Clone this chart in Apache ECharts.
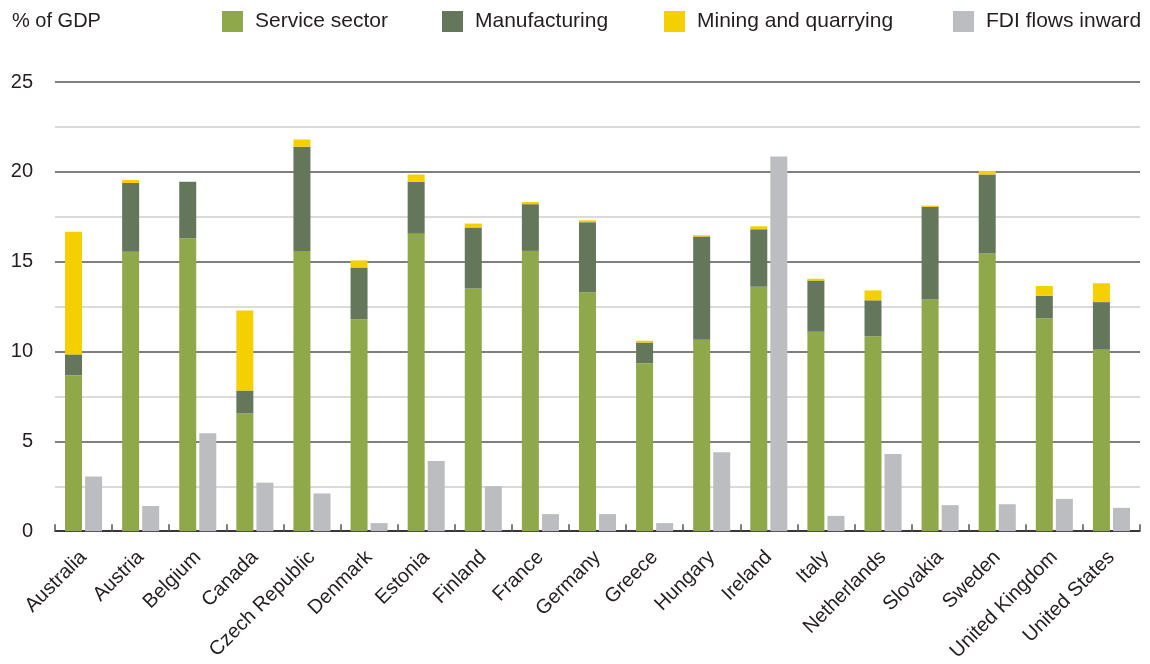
<!DOCTYPE html>
<html>
<head>
<meta charset="utf-8">
<title>Value added by sector and FDI inflows</title>
<script src="https://cdn.jsdelivr.net/npm/echarts@6/dist/echarts.min.js"></script>
<style>
  html, body { margin: 0; padding: 0; background: #fff; }
  #chart { width: 1150px; height: 664px; }
</style>
</head>
<body>
<div id="chart"></div>
<script>
// Countries on the category axis
const countries = [
  'Australia', 'Austria', 'Belgium', 'Canada', 'Czech Republic', 'Denmark',
  'Estonia', 'Finland', 'France', 'Germany', 'Greece', 'Hungary', 'Ireland',
  'Italy', 'Netherlands', 'Slovakia', 'Sweden', 'United Kingdom', 'United States'
];

// Sector shares, % of GDP (stacked)
const serviceSector = [8.67, 15.55, 16.3, 6.55, 15.6, 11.8, 16.55, 13.5, 15.6, 13.3, 9.35, 10.65, 13.6, 11.1, 10.85, 12.9, 15.45, 11.85, 10.1];
const manufacturing = [1.17, 3.83, 3.15, 1.28, 5.8, 2.87, 2.9, 3.4, 2.6, 3.9, 1.15, 5.75, 3.2, 2.85, 2.0, 5.15, 4.4, 1.25, 2.65];
const mining = [6.83, 0.17, 0, 4.45, 0.4, 0.4, 0.4, 0.22, 0.12, 0.1, 0.1, 0.07, 0.17, 0.1, 0.55, 0.07, 0.2, 0.55, 1.05];

// Inward FDI flows, % of GDP
const fdiInward = [3.05, 1.4, 5.45, 2.7, 2.1, 0.45, 3.9, 2.5, 0.95, 0.95, 0.45, 4.4, 20.85, 0.85, 4.3, 1.45, 1.5, 1.8, 1.3];

// Value axis ticks
const yTicks = [0, 5, 10, 15, 20, 25];

const seriesNames = ['Service sector', 'Manufacturing', 'Mining and quarrying', 'FDI flows inward'];
const colors = ['#8fa84a', '#64775a', '#f4d000', '#bcbdc0'];
const legendLeft = [222, 442, 664, 953];

const FONT = '"Liberation Sans", Arial, Helvetica, sans-serif';
const TEXT = '#231f20';

const chart = echarts.init(document.getElementById('chart'), null, { renderer: 'canvas' });

// One legend block per series so each entry sits at its own spot
const legends = seriesNames.map((name, i) => ({
  data: [name],
  left: legendLeft[i],
  top: 11,
  padding: 0,
  icon: 'rect',
  itemWidth: 21,
  itemHeight: 21,
  selectedMode: false,
  textStyle: { fontFamily: FONT, fontSize: 21, color: TEXT, padding: [0, 0, 0, 7] }
}));

const option = {
  animation: false,
  color: colors,
  title: {
    text: '% of GDP',
    left: 12,
    top: 11,
    padding: 0,
    textStyle: { fontFamily: FONT, fontSize: 20, fontWeight: 'normal', color: TEXT }
  },
  legend: legends,
  grid: { left: 55, right: 10, top: 82, bottom: 132, containLabel: false },
  xAxis: {
    type: 'category',
    data: countries,
    axisLine: { lineStyle: { color: '#231f20', width: 1.5 } },
    axisTick: { show: true, inside: true, length: 7, lineStyle: { color: '#555', width: 1.5 } },
    axisLabel: {
      rotate: 45,
      margin: 23,
      fontFamily: FONT,
      fontSize: 20,
      color: TEXT,
      interval: 0
    }
  },
  yAxis: {
    type: 'value',
    min: 0,
    max: 25,
    interval: 2.5,
    axisLine: { show: false },
    axisTick: { show: false },
    axisLabel: {
      margin: 22,
      fontFamily: FONT,
      fontSize: 20,
      color: TEXT,
      formatter: v => (yTicks.indexOf(v) >= 0 ? String(v) : '')
    },
    splitLine: {
      show: true,
      lineStyle: { color: ['#555', '#cfcfcf'], width: 1.5 }
    }
  },
  series: [
    { name: seriesNames[0], type: 'bar', stack: 'sector', data: serviceSector, barWidth: 17, barGap: '18%' },
    { name: seriesNames[1], type: 'bar', stack: 'sector', data: manufacturing, barWidth: 17, barGap: '18%' },
    { name: seriesNames[2], type: 'bar', stack: 'sector', data: mining, barWidth: 17, barGap: '18%' },
    { name: seriesNames[3], type: 'bar', data: fdiInward, barWidth: 17, barGap: '18%' }
  ]
};

chart.setOption(option);
</script>
</body>
</html>
